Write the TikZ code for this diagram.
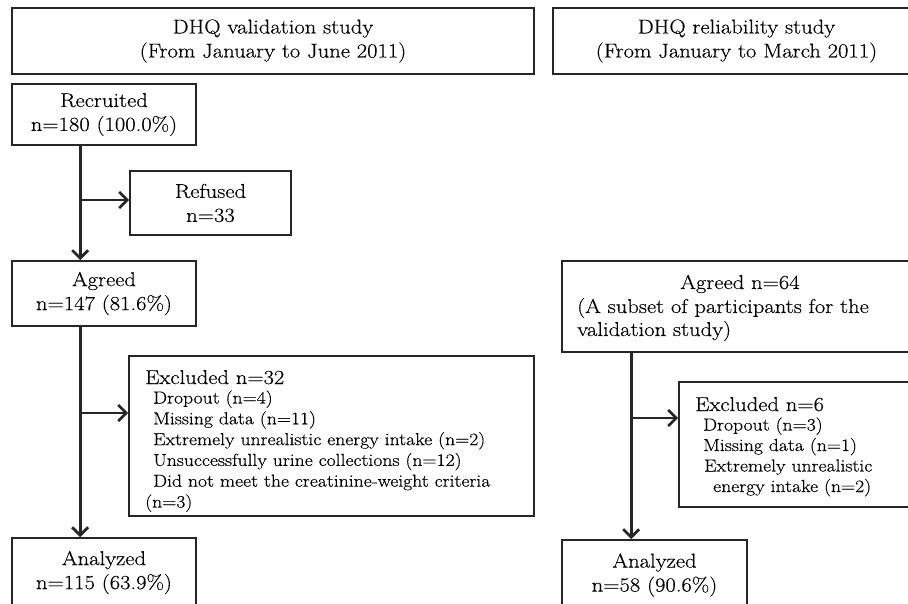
\documentclass[tikz,border=0pt]{standalone}
\usepackage{fontspec}
\setmainfont{Latin Modern Roman}[FakeStretch=1.13,FakeBold=0.35]
\usetikzlibrary{arrows.meta}
\begin{document}
\begin{tikzpicture}[x=1pt,y=-1pt,
  box/.style={draw=black!85, line width=1.7pt, inner sep=0pt, align=center, font=\fontsize{20}{24}\selectfont},
  hbox/.style={box, line width=2.7pt},
  maintext/.style={font=\fontsize{20}{24}\selectfont, inner sep=0pt, anchor=base west},
  itemtext/.style={font=\fontsize{17.4}{21}\selectfont, inner sep=0pt, anchor=base west},
  flow/.style={draw=black!85, line width=2.7pt, -{Straight Barb[length=8pt,width=16pt,line width=2.7pt]}}]
\useasboundingbox (0,0) rectangle (908,604);
\clip (0,0) rectangle (908,604);
% headers
\node[hbox, minimum width=522pt, minimum height=66pt] (hv) at (273,41) {DHQ validation study\\(From January to June 2011)};
\node[hbox, minimum width=367pt, minimum height=66pt] (hr) at (736.5,41) {DHQ reliability study\\(From January to March 2011)};
% validation column
\node[box, minimum width=184pt, minimum height=61pt] (rec) at (104,114.5) {Recruited\\n=180 (100.0\%)};
\node[box, minimum width=161pt, minimum height=64pt] (ref) at (210.5,203) {Refused\\n=33};
\node[box, minimum width=184pt, minimum height=65pt] (agr) at (104,293.5) {Agreed\\n=147 (81.6\%)};
\node[box, minimum width=405pt, minimum height=160pt] (exc) at (331.5,436) {};
\node[maintext] (e32) at (145,384) {Excluded n=32};
\node[itemtext] (e32a) at (153,403.5) {Dropout (n=4)};
\node[itemtext] (e32b) at (153,424.3) {Missing data (n=11)};
\node[itemtext] (e32c) at (153,445.1) {Extremely unrealistic energy intake (n=2)};
\node[itemtext] (e32d) at (153,465.9) {Unsuccessfully urine collections (n=12)};
\node[itemtext] (e32e) at (153,486.7) {Did not meet the creatinine-weight criteria};
\node[itemtext] (e32f) at (145,507.5) {(n=3)};
\node[box, minimum width=184pt, minimum height=69pt] (ana) at (104,572.5) {Analyzed\\n=115 (63.9\%)};
% reliability column
\node[box, minimum width=358pt, minimum height=91pt] (a64) at (741,306.5) {};
\node[font=\fontsize{20}{24}\selectfont, inner sep=0pt, anchor=base] (a64t) at (740,289) {Agreed n=64};
\node[maintext] (a64b) at (577,313) {(A subset of participants for the};
\node[maintext] (a64c) at (577,336) {validation study)};
\node[box, minimum width=251pt, minimum height=125pt] (ex6) at (804.5,444.5) {};
\node[maintext] (e6) at (695,411) {Excluded n=6};
\node[itemtext] (e6a) at (703,430.5) {Dropout (n=3)};
\node[itemtext] (e6b) at (703,451) {Missing data (n=1)};
\node[itemtext] (e6c) at (704,471.5) {Extremely unrealistic};
\node[itemtext] (e6d) at (713,492) {energy intake (n=2)};
\node[box, minimum width=185pt, minimum height=70pt] (an58) at (654.5,575) {Analyzed\\n=58 (90.6\%)};
% connectors
\coordinate (s1) at ([xshift=69pt]rec.south west);
\coordinate (t1) at ([yshift=3pt]ref.west);
\draw[flow] (s1) -- (s1 |- agr.north);
\draw[flow] (s1 |- t1) -- (t1);
\coordinate (s2) at ([xshift=69pt]agr.south west);
\coordinate (t2) at ([yshift=23pt]exc.west);
\draw[flow] (s2) -- (s2 |- ana.north);
\draw[flow] (s2 |- t2) -- (t2);
\coordinate (s3) at ([xshift=70pt]a64.south west);
\coordinate (t3) at ([yshift=26.5pt]ex6.west);
\draw[flow] (s3) -- (s3 |- an58.north);
\draw[flow] (s3 |- t3) -- (t3);
\end{tikzpicture}
\end{document}
